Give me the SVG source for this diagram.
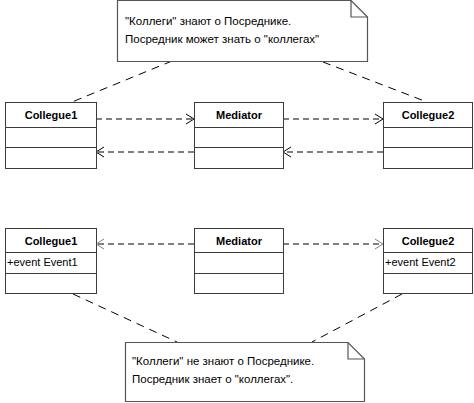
<svg xmlns="http://www.w3.org/2000/svg" width="474" height="403" viewBox="0 0 474 403">
<style>
.box{fill:#fff;stroke:#3c3c3c;stroke-width:1}
.sep{stroke:#3c3c3c;stroke-width:1}
.hd{font-family:"Liberation Sans",Arial,sans-serif;font-size:11px;font-weight:bold;text-anchor:middle;fill:#000}
.at{font-family:"Liberation Sans",Arial,sans-serif;font-size:11px;fill:#000}
.nt{font-family:"Liberation Sans",Arial,sans-serif;font-size:11.5px;fill:#000}
.note{fill:#fff;stroke:#555;stroke-width:1.2}
.dep{fill:none;stroke:#000;stroke-width:1;stroke-dasharray:6 4}
.dep2{fill:none;stroke:#808080;stroke-width:2;stroke-dasharray:6 4}
.anc{fill:none;stroke:#000;stroke-width:1;stroke-dasharray:8 6}
.ah{fill:none;stroke:#000;stroke-width:1}
.ah2{fill:none;stroke:#808080;stroke-width:1}
</style>
<g id="connectors">
<line class="anc" x1="172" y1="61" x2="72" y2="102"/>
<line class="anc" x1="323" y1="62" x2="427" y2="102"/>
<line class="anc" x1="73" y1="294" x2="177" y2="342"/>
<line class="anc" x1="402" y1="294" x2="312" y2="342"/>
<line class="dep" x1="96" y1="119" x2="193" y2="119"/>
<polyline class="ah" points="186,114 194,119 186,124"/>
<line class="dep" x1="194" y1="152" x2="97" y2="152"/>
<polyline class="ah" points="104,147 96,152 104,157"/>
<line class="dep" x1="283" y1="119" x2="382" y2="119"/>
<polyline class="ah" points="375,114 383,119 375,124"/>
<line class="dep" x1="383" y1="152" x2="284" y2="152"/>
<polyline class="ah" points="291,147 283,152 291,157"/>
<line class="dep2" x1="194" y1="244" x2="98" y2="244"/>
<polyline class="ah2" points="104,239 96,244 104,249"/>
<line class="dep2" x1="283" y1="244" x2="381" y2="244"/>
<polyline class="ah2" points="375,239 383,244 375,249"/>
</g>
<g id="note-top">
<path class="note" d="M117.5,0.5 H351 L367.5,17 V61.5 H117.5 Z"/>
<polyline class="note" points="351,0.5 351,17 367.5,17" style="fill:none"/>
<text class="nt" x="125" y="25">"Коллеги" знают о Посреднике.</text>
<text class="nt" x="125" y="43">Посредник может знать о "коллегах"</text>
</g>
<g id="collegue1-top">
<rect class="box" x="5.5" y="102.5" width="91" height="66"/>
<line class="sep" x1="5.5" y1="127.5" x2="96.5" y2="127.5"/>
<line class="sep" x1="5.5" y1="147.5" x2="96.5" y2="147.5"/>
<text class="hd" x="51" y="119">Collegue1</text>
</g>
<g id="mediator-top">
<rect class="box" x="194.5" y="102.5" width="89" height="66"/>
<line class="sep" x1="194.5" y1="127.5" x2="283.5" y2="127.5"/>
<line class="sep" x1="194.5" y1="147.5" x2="283.5" y2="147.5"/>
<text class="hd" x="239" y="119">Mediator</text>
</g>
<g id="collegue2-top">
<rect class="box" x="383.5" y="102.5" width="89" height="66"/>
<line class="sep" x1="383.5" y1="127.5" x2="472.5" y2="127.5"/>
<line class="sep" x1="383.5" y1="147.5" x2="472.5" y2="147.5"/>
<text class="hd" x="428" y="119">Collegue2</text>
</g>
<g id="collegue1-bottom">
<rect class="box" x="5.5" y="228.5" width="91" height="65"/>
<line class="sep" x1="5.5" y1="252.5" x2="96.5" y2="252.5"/>
<line class="sep" x1="5.5" y1="273.5" x2="96.5" y2="273.5"/>
<text class="hd" x="51" y="245">Collegue1</text>
<text class="at" x="7" y="266">+event Event1</text>
</g>
<g id="mediator-bottom">
<rect class="box" x="194.5" y="228.5" width="89" height="65"/>
<line class="sep" x1="194.5" y1="252.5" x2="283.5" y2="252.5"/>
<line class="sep" x1="194.5" y1="273.5" x2="283.5" y2="273.5"/>
<text class="hd" x="239" y="245">Mediator</text>
</g>
<g id="collegue2-bottom">
<rect class="box" x="383.5" y="228.5" width="89" height="65"/>
<line class="sep" x1="383.5" y1="252.5" x2="472.5" y2="252.5"/>
<line class="sep" x1="383.5" y1="273.5" x2="472.5" y2="273.5"/>
<text class="hd" x="428" y="245">Collegue2</text>
<text class="at" x="385" y="266">+event Event2</text>
</g>
<g id="note-bottom">
<path class="note" d="M125.5,342.5 H348 L364.5,359 V401.5 H125.5 Z"/>
<polyline class="note" points="348,342.5 348,359 364.5,359" style="fill:none"/>
<text class="nt" x="132" y="365">"Коллеги" не знают о Посреднике.</text>
<text class="nt" x="132" y="383">Посредник знает о "коллегах".</text>
</g>
</svg>
